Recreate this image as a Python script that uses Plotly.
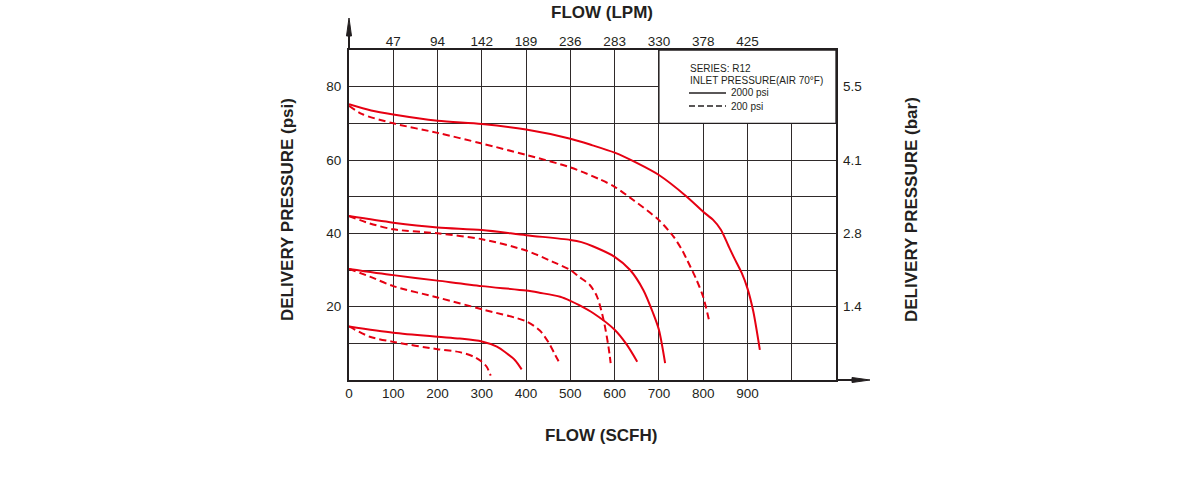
import plotly.graph_objects as go

# ---------------- data ----------------
scfh_ticks = [0, 100, 200, 300, 400, 500, 600, 700, 800, 900]
scfh_labels = ["0", "100", "200", "300", "400", "500", "600", "700", "800", "900"]
lpm_ticks = [100, 200, 300, 400, 500, 600, 700, 800, 900]
lpm_labels = ["47", "94", "142", "189", "236", "283", "330", "378", "425"]
psi_ticks = [20, 40, 60, 80]
psi_labels = ["20", "40", "60", "80"]
bar_labels = ["1.4", "2.8", "4.1", "5.5"]

# inlet 2000 psi (solid)
s75_x = [0, 50, 100, 200, 300, 400, 500, 550, 600, 650, 700, 763, 800, 823, 840, 857, 870, 887, 900, 913, 928]
s75_y = [75.2, 73.5, 72.4, 70.7, 69.8, 68.3, 65.8, 64.0, 62.0, 59.2, 55.9, 50.0, 45.9, 43.6, 41.0, 36.6, 33.3, 29.2, 25.0, 18.8, 8.2]
s45_x = [0, 100, 200, 300, 400, 500, 525, 552, 600, 635, 665, 687, 700, 714]
s45_y = [44.7, 42.9, 41.6, 40.9, 39.5, 38.2, 37.6, 36.4, 33.6, 30.0, 24.5, 18.2, 13.7, 4.6]
s30_x = [0, 100, 200, 300, 400, 430, 477, 500, 520, 552, 600, 627, 651]
s30_y = [30.3, 28.6, 27.1, 25.6, 24.4, 23.8, 22.7, 21.6, 20.4, 18.2, 13.7, 9.7, 5.0]
s15_x = [0, 100, 200, 250, 300, 334, 356, 375, 390]
s15_y = [14.6, 12.9, 11.8, 11.3, 10.5, 9.1, 7.3, 5.4, 2.9]

# inlet 200 psi (dashed)
d75_x = [0, 30, 100, 200, 300, 400, 500, 567, 600, 642, 700, 733, 752, 763, 785, 800, 813]
d75_y = [74.8, 72.5, 70.0, 67.4, 64.5, 61.4, 58.0, 54.7, 52.7, 49.1, 43.6, 39.1, 35.5, 32.9, 27.3, 22.7, 16.4]
d45_x = [0, 47, 100, 200, 300, 400, 459, 500, 519, 544, 560, 575, 586, 591]
d45_y = [44.7, 42.7, 41.1, 40.0, 38.4, 35.3, 32.3, 30.0, 28.2, 25.9, 22.8, 16.4, 9.1, 4.6]
d30_x = [0, 47, 100, 200, 303, 400, 431, 452, 465, 476]
d30_y = [30.3, 28.2, 25.6, 22.5, 19.2, 16.0, 13.5, 10.0, 7.0, 4.5]
d15_x = [0, 47, 100, 200, 250, 281, 300, 311, 320]
d15_y = [14.6, 11.8, 10.4, 8.4, 7.6, 6.4, 5.0, 3.6, 1.2]

solid_curves = [(s75_x, s75_y), (s45_x, s45_y), (s30_x, s30_y), (s15_x, s15_y)]
dashed_curves = [(d75_x, d75_y), (d45_x, d45_y), (d30_x, d30_y), (d15_x, d15_y)]

# ---------------- style ----------------
RED = "#e60012"
INK = "#231f20"
GRID = "#2f2a2a"
FONT = "Liberation Sans, Arial, sans-serif"

fig = go.Figure()
for cx, cy in solid_curves:
    fig.add_trace(go.Scatter(x=cx, y=cy, mode="lines", showlegend=False,
                             line=dict(color=RED, width=2, shape="spline", smoothing=0.8),
                             hoverinfo="skip"))
for cx, cy in dashed_curves:
    fig.add_trace(go.Scatter(x=cx, y=cy, mode="lines", showlegend=False,
                             line=dict(color=RED, width=2, dash="7px,4px", shape="spline", smoothing=0.8),
                             hoverinfo="skip"))

# invisible trace to activate secondary axes
fig.add_trace(go.Scatter(x=[0], y=[0], xaxis="x2", yaxis="y2", mode="markers",
                         marker=dict(opacity=0), showlegend=False, hoverinfo="skip"))


def px_x(p):
    return (p - 349) / 487.0


def px_y(p):
    return (380 - p) / 330.0


tickfont = dict(family=FONT, size=13.5, color=INK)

fig.update_layout(
    width=1200, height=478,
    margin=dict(l=349, r=364, t=50, b=98),
    paper_bgcolor="white", plot_bgcolor="white",
    font=dict(family=FONT, color=INK),
    xaxis=dict(range=[0, 1100], tickvals=scfh_ticks, ticktext=scfh_labels,
               showgrid=True, gridcolor=GRID, gridwidth=1.3,
               minor=dict(dtick=100, showgrid=True, gridcolor=GRID, gridwidth=1.3),
               showline=True, linecolor=INK, linewidth=2, mirror=True,
               zeroline=False, ticks="", tickfont=tickfont, fixedrange=True),
    yaxis=dict(range=[0, 90], tickvals=psi_ticks, ticktext=psi_labels,
               showgrid=True, gridcolor=GRID, gridwidth=1.3,
               minor=dict(dtick=10, showgrid=True, gridcolor=GRID, gridwidth=1.3),
               showline=True, linecolor=INK, linewidth=2, mirror=True,
               zeroline=False, ticks="", tickfont=tickfont, ticklabelstandoff=3,
               fixedrange=True),
    xaxis2=dict(range=[0, 1100], overlaying="x", side="top", tickvals=lpm_ticks,
                ticktext=lpm_labels, showgrid=False, showline=False, zeroline=False,
                ticks="", tickfont=tickfont, fixedrange=True),
    yaxis2=dict(range=[0, 90], overlaying="y", side="right", tickvals=psi_ticks,
                ticktext=bar_labels, showgrid=False, showline=False, zeroline=False,
                ticks="", tickfont=tickfont, ticklabelstandoff=6, fixedrange=True),
    showlegend=False,
)

# legend box covering grid
fig.add_shape(type="rect", xref="x", yref="y", x0=700, x1=1100, y0=70, y1=90,
              fillcolor="white", line=dict(color=INK, width=1.3), layer="above")

# axis arrows
fig.add_shape(type="line", xref="paper", yref="paper", x0=0, x1=0, y0=1, y1=px_y(32),
              line=dict(color=INK, width=2))
fig.add_shape(type="path", xref="paper", yref="paper",
              path=f"M {-2.5/487} {px_y(36)} L 0 {px_y(18)} L {2.5/487} {px_y(36)} Z",
              fillcolor=INK, line=dict(color=INK, width=1))
fig.add_shape(type="line", xref="paper", yref="paper", x0=1, x1=px_x(855), y0=0, y1=0,
              line=dict(color=INK, width=2))
fig.add_shape(type="path", xref="paper", yref="paper",
              path=f"M {px_x(852)} {2.5/330} L {px_x(870)} 0 L {px_x(852)} {-2.5/330} Z",
              fillcolor=INK, line=dict(color=INK, width=1))

# legend contents
leg_font = dict(family=FONT, size=10, color=INK)
fig.add_annotation(text="SERIES: R12", xref="paper", yref="paper", x=px_x(688), y=px_y(68),
                   xanchor="left", yanchor="middle", showarrow=False, font=leg_font)
fig.add_annotation(text="INLET PRESSURE(AIR 70°F)", xref="paper", yref="paper", x=px_x(688), y=px_y(80.5),
                   xanchor="left", yanchor="middle", showarrow=False, font=leg_font)
fig.add_shape(type="line", xref="paper", yref="paper", x0=px_x(689), x1=px_x(726),
              y0=px_y(93), y1=px_y(93), line=dict(color=INK, width=1.5))
fig.add_annotation(text="2000 psi", xref="paper", yref="paper", x=px_x(729), y=px_y(93),
                   xanchor="left", yanchor="middle", showarrow=False, font=leg_font)
fig.add_shape(type="line", xref="paper", yref="paper", x0=px_x(689), x1=px_x(726),
              y0=px_y(106), y1=px_y(106), line=dict(color=INK, width=1.5, dash="6px,3px"))
fig.add_annotation(text="200 psi", xref="paper", yref="paper", x=px_x(729), y=px_y(106),
                   xanchor="left", yanchor="middle", showarrow=False, font=leg_font)

# axis titles
title_font = dict(family=FONT, size=17, color=INK, weight="bold")
fig.add_annotation(text="FLOW (LPM)", xref="paper", yref="paper", x=px_x(602), y=px_y(1),
                   xanchor="center", yanchor="top", showarrow=False, font=title_font)
fig.add_annotation(text="FLOW (SCFH)", xref="paper", yref="paper", x=px_x(601), y=px_y(435),
                   xanchor="center", yanchor="middle", showarrow=False, font=title_font)
fig.add_annotation(text="DELIVERY PRESSURE (psi)", xref="paper", yref="paper", x=px_x(287), y=px_y(210),
                   xanchor="center", yanchor="middle", textangle=-90, showarrow=False, font=title_font)
fig.add_annotation(text="DELIVERY PRESSURE (bar)", xref="paper", yref="paper", x=px_x(911), y=px_y(210),
                   xanchor="center", yanchor="middle", textangle=-90, showarrow=False, font=title_font)

fig.write_html("out.html")
